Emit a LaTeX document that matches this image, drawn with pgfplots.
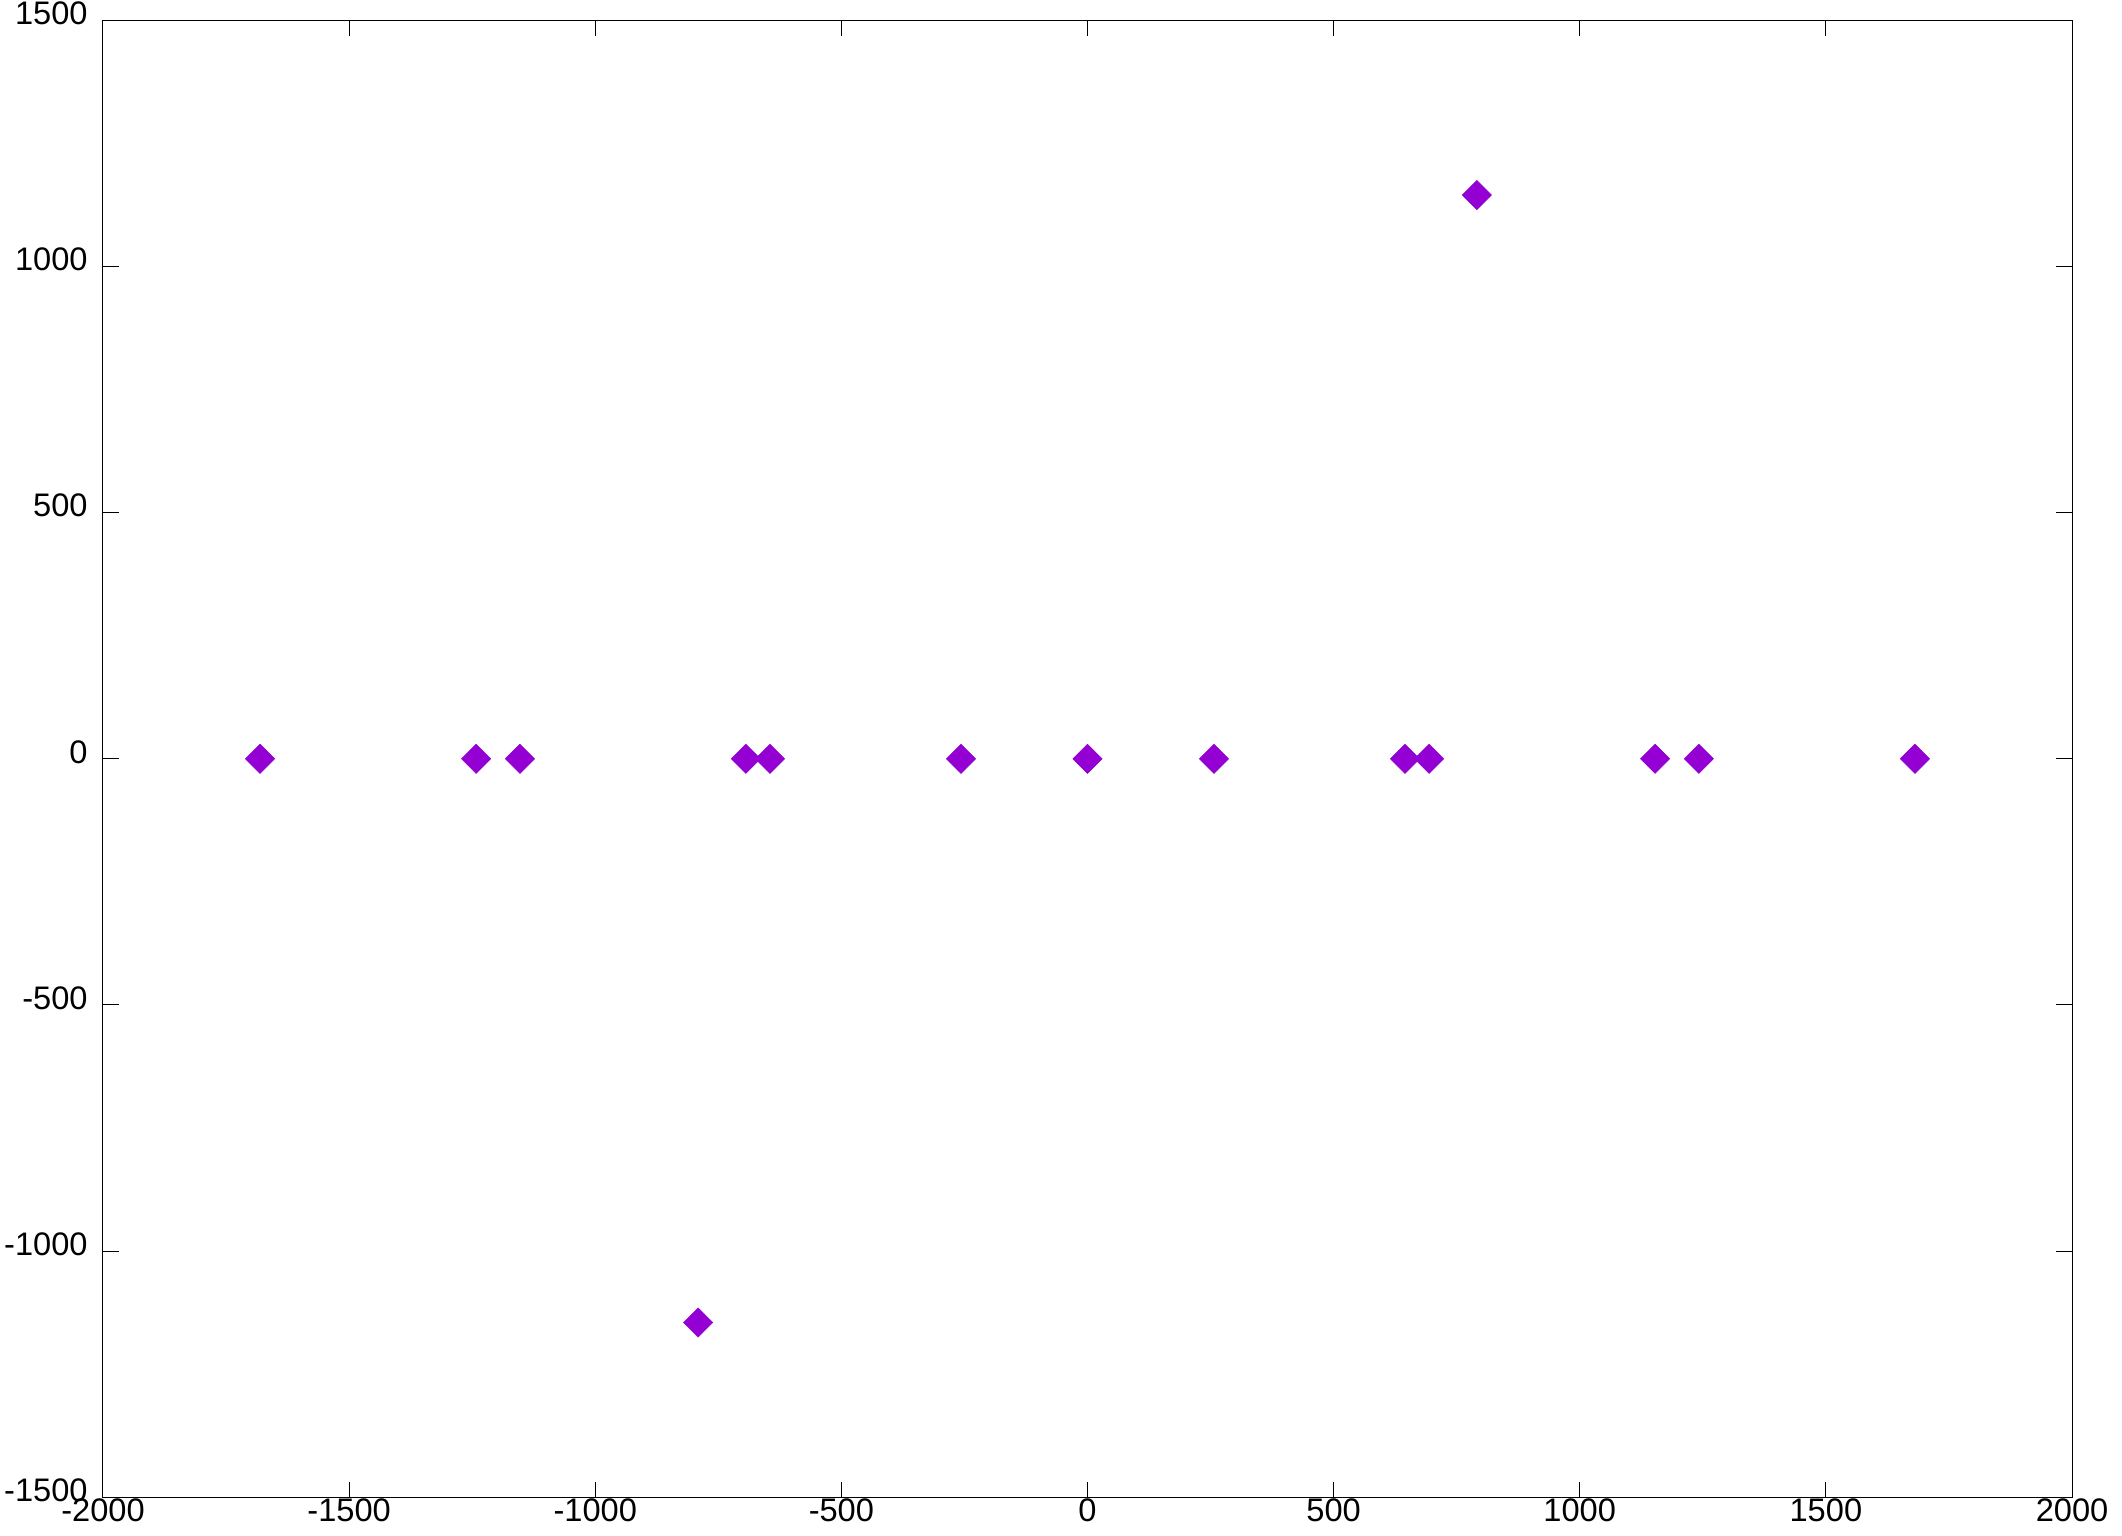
\documentclass[border=0pt]{standalone}
\usepackage{fontspec}
\setmainfont{Liberation Sans}
\usepackage{pgfplots}
\pgfplotsset{compat=1.18}
\definecolor{gpviolet}{HTML}{9400D3}
\begin{document}
\begin{tikzpicture}
\begin{axis}[
  at={(0,0)}, anchor=south west,
  scale only axis,
  width=984.5pt, height=738.5pt,
  xmin=-2000, xmax=2000, ymin=-1500, ymax=1500,
  xtick={-2000,-1500,...,2000},
  ytick={-1500,-1000,...,1500},
  tick align=inside,
  major tick length=7.8pt,
  axis line style={line width=0.5pt},
  tick style={black, line width=0.5pt},
  scaled ticks=false,
  /pgf/number format/assume math mode=true,
  /pgf/number format/1000 sep={},
  tick label style={font=\fontsize{16.3}{19}\selectfont, inner sep=0pt},
  xticklabel style={anchor=north, yshift=-0.5pt},
  yticklabel style={anchor=east, xshift=-7.5pt, yshift=3.5pt},
]
\addplot[only marks, color=gpviolet, mark=diamond*, mark size=7.3pt,
  mark options={xscale=4/3, line width=0.3pt}] coordinates {
  (-1681,0) (-1242,0) (-1153,0) (-791,-1145) (-694,0) (-645,0) (-257,0)
  (0,0) (257,0) (645,0) (694,0) (791,1145) (1153,0) (1242,0) (1681,0)
};
\end{axis}
\pgfresetboundingbox
\useasboundingbox (-51.5pt,-19.35pt) rectangle (1009.5pt,748.65pt);
\end{tikzpicture}
\end{document}
